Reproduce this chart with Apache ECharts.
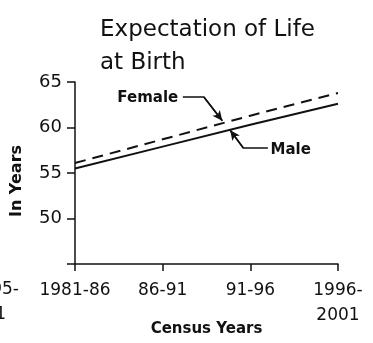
<!DOCTYPE html>
<html>
<head>
<meta charset="utf-8">
<script src="https://cdn.jsdelivr.net/npm/echarts@6/dist/echarts.min.js"></script>
<style>
html, body { margin: 0; padding: 0; background: #fff; }
#chart { width: 373px; height: 343px; }
</style>
</head>
<body>
<div id="chart"></div>
<script>
// Census periods (x axis) and projected life expectancy in years
const periods = ['1981-86', '86-91', '91-96', '1996-\n2001'];
const male = [55.5, 57.9, 60.3, 62.6];
const female = [56.1, 58.7, 61.3, 63.8];
const yTickValues = [45, 50, 55, 60, 65];

// Callout leaders, in data units (x = period index, y = years)
const femaleCallout = [[1.23, 63.35], [1.47, 63.35], [1.68, 60.75]];
const maleCallout = [[2.20, 57.75], [1.92, 57.75], [1.77, 59.7]];
const femaleTextAt = [0.83, 63.25];
const maleTextAt = [2.46, 57.55];

const FONT = 'DejaVu Sans';
const INK = '#111';

const chart = echarts.init(document.getElementById('chart'), null, { renderer: 'canvas' });

function leader(points) {
  const n = points.length;
  return {
    type: 'line',
    data: points,
    silent: true,
    symbol: 'none',
    lineStyle: { color: INK, width: 1.5 },
    z: 3,
    markLine: {
      silent: true,
      symbol: ['none', 'arrow'],
      symbolSize: [7, 10],
      label: { show: false },
      lineStyle: { color: INK, width: 1.5, type: 'solid' },
      data: [[{ coord: points[n - 2] }, { coord: points[n - 1] }]]
    }
  };
}

chart.setOption({
  animation: false,
  backgroundColor: '#fff',
  title: {
    text: 'Expectation of Life\nat Birth',
    left: 95,
    top: 9,
    textStyle: {
      fontFamily: FONT,
      fontSize: 23,
      fontWeight: 'normal',
      color: INK,
      lineHeight: 33
    }
  },
  grid: { left: 75, right: 35, top: 82, bottom: 79, containLabel: false, outerBoundsMode: 'none' },
  xAxis: {
    type: 'value',
    min: 0,
    max: periods.length - 1,
    interval: 1,
    name: 'Census Years',
    nameLocation: 'middle',
    nameGap: 58,
    nameMoveOverlap: false,
    nameTextStyle: { fontFamily: FONT, fontSize: 15, fontWeight: 'bold', color: INK },
    axisLine: { show: true, lineStyle: { color: INK, width: 1.5 } },
    axisTick: { show: true, inside: false, length: 7, lineStyle: { color: INK, width: 1.5 } },
    axisLabel: {
      fontFamily: FONT,
      fontSize: 17,
      color: INK,
      margin: 14,
      lineHeight: 25,
      formatter: v => periods[Math.round(v)] || ''
    },
    splitLine: { show: false }
  },
  yAxis: {
    type: 'value',
    min: yTickValues[0],
    max: yTickValues[yTickValues.length - 1],
    interval: 5,
    name: 'In Years',
    nameLocation: 'middle',
    nameRotate: 90,
    nameGap: 50,
    nameMoveOverlap: false,
    nameTextStyle: { fontFamily: FONT, fontSize: 16, fontWeight: 'bold', color: INK, padding: [0, 0, 0, -16] },
    axisLine: { show: true, lineStyle: { color: INK, width: 1.5 } },
    axisTick: { show: true, inside: false, length: 8, lineStyle: { color: INK, width: 1.5 } },
    axisLabel: {
      fontFamily: FONT,
      fontSize: 18,
      color: INK,
      margin: 13,
      formatter: v => (v === yTickValues[0] ? '' : String(v))
    },
    splitLine: { show: false }
  },
  series: [
    {
      name: 'Male',
      type: 'line',
      data: male.map((v, i) => [i, v]),
      symbol: 'none',
      lineStyle: { color: INK, width: 2 },
      z: 4
    },
    {
      name: 'Female',
      type: 'line',
      data: female.map((v, i) => [i, v]),
      symbol: 'none',
      lineStyle: { color: INK, width: 2, type: [11, 7] },
      z: 4
    },
    leader(femaleCallout),
    leader(maleCallout)
  ]
});

// Callout words and the clipped neighbouring period label at the far left
const fPos = chart.convertToPixel({ gridIndex: 0 }, femaleTextAt);
const mPos = chart.convertToPixel({ gridIndex: 0 }, maleTextAt);
const calloutStyle = { fontFamily: FONT, fontSize: 15, fontWeight: 'bold', fill: INK, align: 'center', verticalAlign: 'middle' };

chart.setOption({
  graphic: [
    { type: 'text', x: fPos[0], y: fPos[1], style: Object.assign({ text: 'Female' }, calloutStyle) },
    { type: 'text', x: mPos[0], y: mPos[1], style: Object.assign({ text: 'Male' }, calloutStyle) },
    { type: 'text', x: 19, y: 290, style: { text: '1995-', fontFamily: FONT, fontSize: 17, fill: INK, align: 'right', verticalAlign: 'middle' } },
    { type: 'text', x: 6, y: 315, style: { text: '2001', fontFamily: FONT, fontSize: 17, fill: INK, align: 'right', verticalAlign: 'middle' } }
  ]
});
</script>
</body>
</html>
